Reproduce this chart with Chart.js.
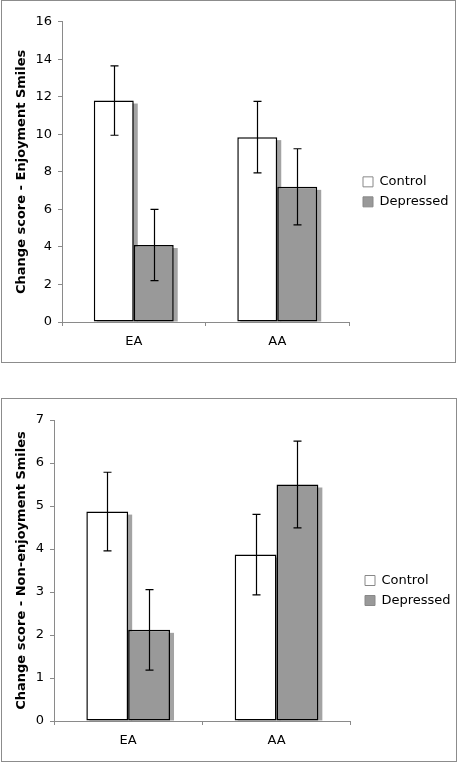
<!DOCTYPE html>
<html><head><meta charset="utf-8">
<script src="https://cdn.jsdelivr.net/npm/chart.js@4.4.1/dist/chart.umd.min.js"></script>
<style>
html,body{margin:0;padding:0;background:#fff;}
.box{position:absolute;border:1px solid #8c8c8c;background:#fff;}
#b1{left:1px;top:0;width:453px;height:361px;}
#b2{left:1px;top:398px;width:454px;height:362px;}
canvas{display:block;}
</style></head><body>
<div class="box" id="b1"><canvas id="c1" width="453" height="361"></canvas></div>
<div class="box" id="b2"><canvas id="c2" width="454" height="362"></canvas></div>
<script>
// ---- data ----
const categories = ['EA', 'AA'];
const seriesNames = ['Control', 'Depressed'];
const enjoymentControl = [11.8, 9.85];
const enjoymentControlErr = [1.85, 1.9];
const enjoymentDepressed = [4.1, 7.2];
const enjoymentDepressedErr = [1.9, 2.03];
const nonEnjoymentControl = [4.87, 3.87];
const nonEnjoymentControlErr = [0.915, 0.935];
const nonEnjoymentDepressed = [2.12, 5.5];
const nonEnjoymentDepressedErr = [0.935, 1.01];
const enjoymentAxis = [0, 16, 2];      // min, max, step
const nonEnjoymentAxis = [0, 7, 1];
const enjoymentTitle = 'Change score - Enjoyment Smiles';
const nonEnjoymentTitle = 'Change score - Non-enjoyment Smiles';

const FONT = "'DejaVu Sans', Verdana, sans-serif";
const AXIS_GRAY = '#8a8a8a';

const shadowPlugin = {
  id: 'barShadow',
  beforeDatasetsDraw(chart) {
    const ctx = chart.ctx;
    ctx.save();
    ctx.fillStyle = '#a3a3a3';
    chart.data.datasets.forEach((ds, i) => {
      chart.getDatasetMeta(i).data.forEach(bar => {
        const p = bar.getProps(['x', 'y', 'base', 'width'], true);
        const left = p.x - p.width / 2;
        ctx.fillRect(left + 3, p.y + 3, p.width + 1, p.base - p.y - 3);
      });
    });
    ctx.restore();
  }
};

const errorBarPlugin = {
  id: 'errorBars',
  afterDatasetsDraw(chart) {
    const ctx = chart.ctx;
    const yScale = chart.scales.y;
    ctx.save();
    ctx.strokeStyle = '#000';
    ctx.lineWidth = 1.2;
    chart.data.datasets.forEach((ds, i) => {
      chart.getDatasetMeta(i).data.forEach((bar, j) => {
        const v = ds.data[j], e = ds.errors[j];
        const x = Math.round(bar.x) + 0.5;
        const yHi = yScale.getPixelForValue(v + e);
        const yLo = yScale.getPixelForValue(v - e);
        ctx.beginPath();
        ctx.moveTo(x, yHi); ctx.lineTo(x, yLo);
        ctx.moveTo(x - 4, yHi); ctx.lineTo(x + 4, yHi);
        ctx.moveTo(x - 4, yLo); ctx.lineTo(x + 4, yLo);
        ctx.stroke();
      });
    });
    ctx.restore();
  }
};

const legendShiftPlugin = {
  id: 'legendShift',
  afterLayout(chart, args, opts) {
    const lg = chart.legend;
    if (!lg) return;
    const dx = opts.targetX - (lg.left + 7);
    lg.left += dx;
    lg.right = chart.width;
    lg.width = lg.right - lg.left;
  }
};

function makeChart(id, ctrl, ctrlErr, dep, depErr, axis, title, geo) {
  return new Chart(document.getElementById(id), {
    type: 'bar',
    data: {
      labels: categories,
      datasets: [
        { label: seriesNames[0], data: ctrl, errors: ctrlErr, backgroundColor: '#ffffff',
          borderColor: '#000', borderWidth: 1.5, borderSkipped: false },
        { label: seriesNames[1], data: dep, errors: depErr, backgroundColor: '#999999',
          borderColor: '#000', borderWidth: 1.5, borderSkipped: false }
      ]
    },
    plugins: [shadowPlugin, errorBarPlugin, legendShiftPlugin],
    options: {
      responsive: false,
      animation: false,
      events: [],
      categoryPercentage: geo.catPct,
      barPercentage: 1.0,
      layout: { padding: { top: geo.padTop, right: geo.padRight, left: 0, bottom: 0 } },
      plugins: {
        tooltip: { enabled: false },
        legendShift: { targetX: geo.legendX },
        legend: {
          position: 'right',
          maxWidth: 90,
          labels: {
            boxWidth: 10, boxHeight: 10, padding: 7, color: '#000',
            font: { family: FONT, size: 13 },
            generateLabels(chart) {
              return chart.data.datasets.map((ds, i) => ({
                text: ds.label, fillStyle: ds.backgroundColor, strokeStyle: '#888',
                lineWidth: 1, hidden: false, datasetIndex: i, fontColor: '#000'
              }));
            }
          }
        }
      },
      scales: {
        x: {
          afterFit(s) { s.height = geo.xHeight; },
          grid: { display: true, drawOnChartArea: false, drawTicks: true, tickLength: 4,
                  color: AXIS_GRAY, offset: true },
          border: { display: true, color: AXIS_GRAY },
          ticks: { color: '#000', font: { family: FONT, size: 13 }, padding: 8 }
        },
        y: {
          min: axis[0], max: axis[1],
          afterFit(s) { s.width = geo.yWidth; },
          grid: { display: true, drawOnChartArea: false, drawTicks: true, tickLength: 4,
                  color: AXIS_GRAY },
          border: { display: true, color: AXIS_GRAY },
          ticks: { stepSize: axis[2], color: '#000', font: { family: FONT, size: 13 }, padding: 6 },
          title: { display: true, text: title, color: '#000',
                   font: { family: FONT, size: 13, weight: 'bold' },
                   padding: { top: 12, bottom: 0 } }
        }
      }
    }
  });
}

makeChart('c1', enjoymentControl, enjoymentControlErr, enjoymentDepressed, enjoymentDepressedErr,
  enjoymentAxis, enjoymentTitle,
  { catPct: 0.557, padTop: 20.7, padRight: 16, xHeight: 40, yWidth: 60, legendX: 361 });
makeChart('c2', nonEnjoymentControl, nonEnjoymentControlErr, nonEnjoymentDepressed, nonEnjoymentDepressedErr,
  nonEnjoymentAxis, nonEnjoymentTitle,
  { catPct: 0.564, padTop: 21, padRight: 15.3, xHeight: 40, yWidth: 52, legendX: 363 });
</script>
</body></html>
